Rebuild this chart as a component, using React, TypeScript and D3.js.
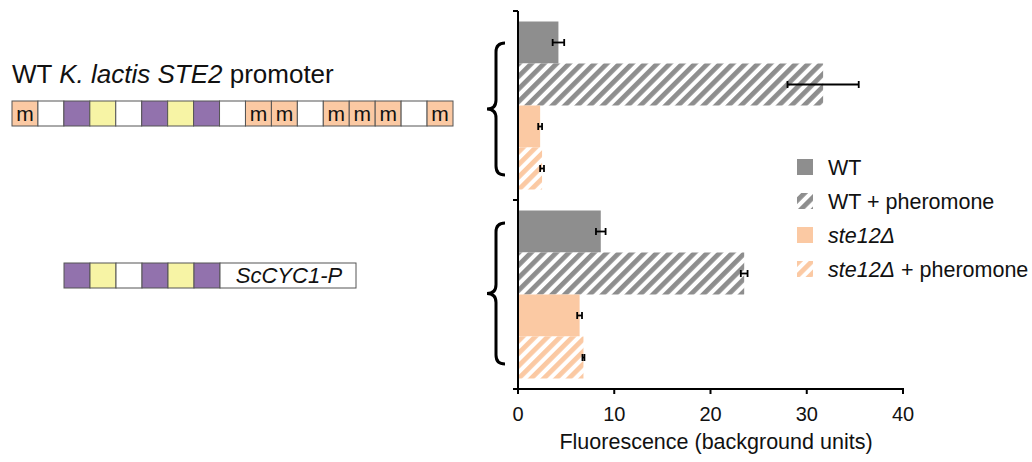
import React from "react";
import * as d3 from "d3";

const groups = ["KlSTE2", "ScCYC1"];
const series = ["WT", "WT + pheromone", "ste12Δ", "ste12Δ + pheromone"];
const meanValues = [
  [4.2, 31.7, 2.3, 2.5],
  [8.6, 23.5, 6.4, 6.8],
];
const errValues = [
  [0.6, 3.7, 0.2, 0.2],
  [0.5, 0.35, 0.25, 0.1],
];
const xTicks = [0, 10, 20, 30, 40];
const promoterCells1 = ["m", "w", "p", "y", "w", "p", "y", "p", "w", "m", "m", "w", "m", "m", "m", "w", "m"];
const promoterCells2 = ["p", "y", "w", "p", "y", "p"];

const GRAY = "#8e8e8e";
const PEACH = "#fbc9a3";
const PURPLE = "#9272ad";
const YELLOW = "#f7f4a5";
const FONT = "'Liberation Sans', Arial, Helvetica, sans-serif";

const seriesFill = ["url(#solidGray)", "url(#hatchGray)", "url(#solidPeach)", "url(#hatchPeach)"];
const cellFill: Record<string, string> = { m: PEACH, w: "#ffffff", p: PURPLE, y: YELLOW };

function bracePath(xt: number, y1: number, y2: number) {
  const xs = xt + 9;
  const xr = xt + 18;
  const ym = (y1 + y2) / 2;
  const r = 9;
  return `M${xr},${y1} Q${xs},${y1} ${xs},${y1 + r} L${xs},${ym - r} Q${xs},${ym} ${xt},${ym} Q${xs},${ym} ${xs},${ym + r} L${xs},${y2 - r} Q${xs},${y2} ${xr},${y2}`;
}

export default function App() {
  const W = 1032, H = 462;
  const x = d3.scaleLinear().domain([0, 40]).range([518, 903]);
  const yTop = 11, yBot = 389;
  const yGroup = d3.scaleBand<string>().domain(groups).range([yTop, yBot]).padding(0);
  const step = yGroup.bandwidth();
  const yInner = d3.scaleBand<string>().domain(series).range([10.5, step - 10.5]).padding(0);

  const cell1 = d3.scaleBand<number>().domain(d3.range(promoterCells1.length)).range([12, 453]);
  const cell2 = d3.scaleBand<number>().domain(d3.range(promoterCells2.length)).range([64, 64 + 26 * 6]);

  return (
    <svg width={W} height={H} style={{ position: "absolute", left: 0, top: 0, fontFamily: FONT }}>
      <defs>
        <pattern id="solidGray" width="10" height="10" patternUnits="userSpaceOnUse">
          <rect width="10" height="10" fill={GRAY} />
        </pattern>
        <pattern id="solidPeach" width="10" height="10" patternUnits="userSpaceOnUse">
          <rect width="10" height="10" fill={PEACH} />
        </pattern>
        <pattern id="hatchGray" width="8.9" height="8.9" patternUnits="userSpaceOnUse" patternTransform="rotate(45)">
          <rect width="8.9" height="8.9" fill="#fff" />
          <rect width="4.8" height="8.9" fill={GRAY} />
        </pattern>
        <pattern id="hatchPeach" width="8.9" height="8.9" patternUnits="userSpaceOnUse" patternTransform="rotate(45)">
          <rect width="8.9" height="8.9" fill="#fff" />
          <rect width="4.8" height="8.9" fill={PEACH} />
        </pattern>
      </defs>
      <rect width={W} height={H} fill="#fff" />

      {/* Promoter 1 */}
      <text x={12} y={83} fontSize={26} fill="#111">
        WT <tspan fontStyle="italic">K. lactis STE2</tspan> promoter
      </text>
      {promoterCells1.map((c, i) => (
        <g key={i}>
          <rect x={cell1(i)} y={101} width={cell1.bandwidth()} height={25} fill={cellFill[c]} stroke="#555" strokeWidth={1} />
          {c === "m" && (
            <text x={(cell1(i) as number) + cell1.bandwidth() / 2} y={120.5} fontSize={21} textAnchor="middle" fill="#111">m</text>
          )}
        </g>
      ))}

      {/* Promoter 2 */}
      {promoterCells2.map((c, i) => (
        <rect key={i} x={cell2(i)} y={263} width={cell2.bandwidth()} height={25} fill={cellFill[c]} stroke="#555" strokeWidth={1} />
      ))}
      <rect x={64 + 26 * 6} y={263} width={356 - (64 + 26 * 6)} height={25} fill="#fff" stroke="#555" strokeWidth={1} />
      <text x={(64 + 26 * 6 + 356) / 2 + 1} y={283} fontSize={22} fontStyle="italic" textAnchor="middle" fill="#111">ScCYC1-P</text>

      {/* Braces */}
      <path d={bracePath(487, 43, 175)} fill="none" stroke="#000" strokeWidth={3} />
      <path d={bracePath(487, 223, 364)} fill="none" stroke="#000" strokeWidth={3} />

      {/* Bars */}
      {groups.map((g, gi) =>
        series.map((s, si) => {
          const y0 = (yGroup(g) as number) + (yInner(s) as number);
          const h = yInner.bandwidth();
          const v = meanValues[gi][si];
          const e = errValues[gi][si];
          const cy = y0 + h / 2;
          return (
            <g key={g + s}>
              <rect x={x(0)} y={y0} width={x(v) - x(0)} height={h} fill={seriesFill[si]} />
              <line x1={x(v - e)} x2={x(v + e)} y1={cy} y2={cy} stroke="#000" strokeWidth={1.8} />
              <line x1={x(v - e)} x2={x(v - e)} y1={cy - 3.5} y2={cy + 3.5} stroke="#000" strokeWidth={1.8} />
              <line x1={x(v + e)} x2={x(v + e)} y1={cy - 3.5} y2={cy + 3.5} stroke="#000" strokeWidth={1.8} />
            </g>
          );
        })
      )}

      {/* Y axis */}
      <line x1={518} x2={518} y1={yTop} y2={yBot} stroke="#000" strokeWidth={2} />
      {[yTop, yTop + step, yBot].map((t, i) => (
        <line key={i} x1={513} x2={518} y1={t} y2={t} stroke="#000" strokeWidth={2} />
      ))}

      {/* X axis */}
      <line x1={x(0) - 1} x2={x(40) + 1} y1={yBot} y2={yBot} stroke="#000" strokeWidth={2} />
      {xTicks.map((t) => (
        <g key={t}>
          <line x1={x(t)} x2={x(t)} y1={yBot} y2={yBot + 5} stroke="#000" strokeWidth={2} />
          <text x={x(t)} y={421} fontSize={20} textAnchor="middle" fill="#111">{t}</text>
        </g>
      ))}
      <text x={716} y={449} fontSize={21.5} textAnchor="middle" fill="#111">Fluorescence (background units)</text>

      {/* Legend */}
      {series.map((s, i) => {
        const ly = 167 + i * 34;
        const isSte = i >= 2;
        return (
          <g key={s}>
            <rect x={797} y={ly - 8} width={16} height={16} fill={seriesFill[i]} />
            <text x={828} y={ly + 7.5} fontSize={21.5} fill="#111">
              {isSte ? (
                <>
                  <tspan fontStyle="italic">ste12Δ</tspan>
                  {i === 3 ? <tspan> + pheromone</tspan> : null}
                </>
              ) : (
                s
              )}
            </text>
          </g>
        );
      })}
    </svg>
  );
}
